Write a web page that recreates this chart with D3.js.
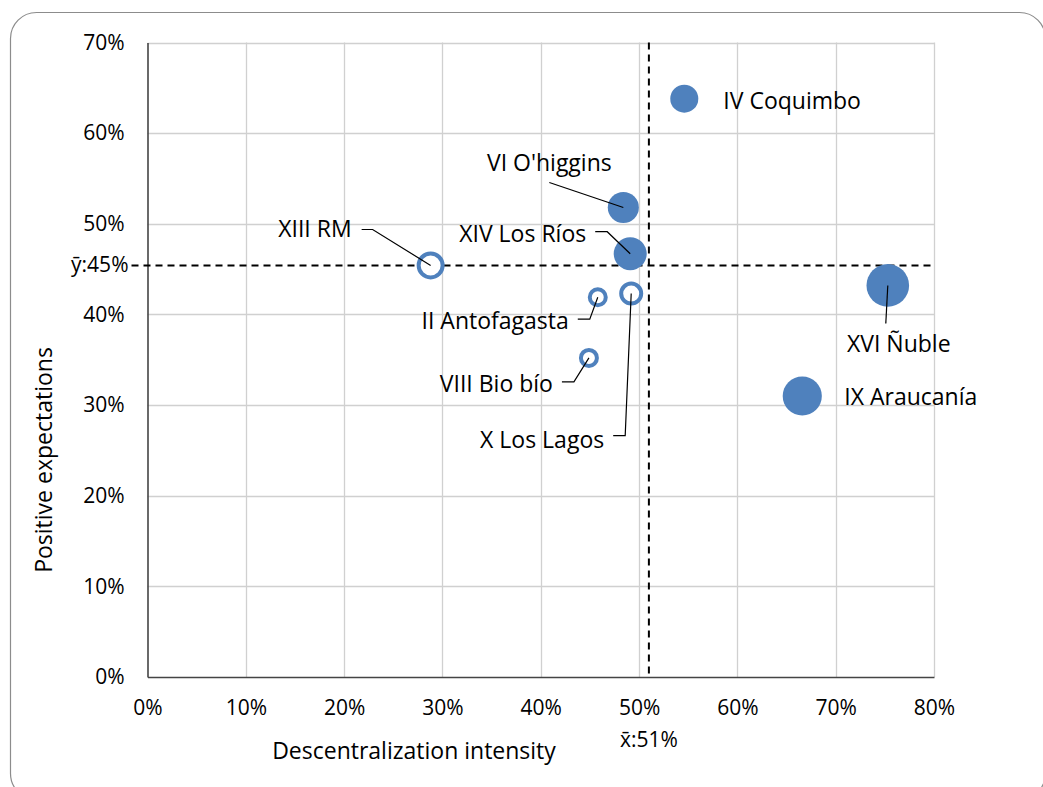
<!DOCTYPE html>
<html><head><meta charset="utf-8">
<script src="https://cdnjs.cloudflare.com/ajax/libs/d3/7.8.5/d3.min.js"></script>
<style>body{margin:0;background:#fff;}text{font-family:"Open Sans",sans-serif;fill:#000;}</style>
</head><body>
<svg id="c" width="1043" height="787"></svg>
<script>
// ---- data ----
const regions = ["IV Coquimbo","VI O'higgins","XIV Los Ríos","XIII RM","II Antofagasta","X Los Lagos","VIII Bio bío","XVI Ñuble","IX Araucanía"];
const decentralization = [0.546,0.484,0.491,0.288,0.458,0.492,0.449,0.753,0.666];
const expectations     = [0.638,0.518,0.467,0.454,0.419,0.423,0.352,0.432,0.310];
const bubbleSize       = [19.5,24,27,-19.4,-9.9,-14.3,-9.9,45,38]; // negative = hollow bubble
const meanX = 0.51, meanY = 0.454;
const xTicks = [0,0.1,0.2,0.3,0.4,0.5,0.6,0.7,0.8];
const yTicks = [0,0.1,0.2,0.3,0.4,0.5,0.6,0.7];
// label layout (pixel offsets of the text anchor from its bubble, and leader elbows)
const labelLayout = [
  {dx:39, dy:10, anchor:"start", leader:null},
  {dx:-74, dy:-36, anchor:"middle", leader:[[-74,-25]]},
  {dx:-44, dy:-12, anchor:"end", leader:[[-23,-22],[-35,-22]]},
  {dx:-79, dy:-28, anchor:"end", leader:[[-58,-36],[-69,-36]]},
  {dx:-29, dy:32, anchor:"end", leader:[[-8,22],[-20,22]]},
  {dx:-27, dy:154, anchor:"end", leader:[[-6,142],[-18,142]]},
  {dx:-36, dy:34, anchor:"end", leader:[[-15,24],[-27,24]]},
  {dx:11, dy:67, anchor:"middle", leader:[[-2,38]]},
  {dx:42, dy:9, anchor:"start", leader:null}
];

const svg = d3.select("#c");
const W=1043,H=787;
svg.append("rect").attr("x",10.5).attr("y",12.5).attr("width",W-8).attr("height",H).attr("rx",26)
  .attr("fill","#fff").attr("stroke","#8c8c8c").attr("stroke-width",1.2);

const L=147.5, R=934, T=42.5, B=677;
const x = d3.scaleLinear().domain([0,0.8]).range([L,R]);
const y = d3.scaleLinear().domain([0,0.7]).range([B,T]);
const rS = d3.scaleSqrt().domain([0,45]).range([0,21.3]);
const pct = d3.format(".0%");
const FT=21, FL=23;

const g = svg.append("g");
// gridlines
g.append("g").selectAll("line").data(xTicks.slice(1)).join("line")
  .attr("x1",d=>Math.round(x(d))+0.5).attr("x2",d=>Math.round(x(d))+0.5).attr("y1",T).attr("y2",B)
  .attr("stroke","#d0d0d0").attr("stroke-width",1.3);
g.append("g").selectAll("line").data(yTicks.slice(1)).join("line")
  .attr("y1",d=>Math.round(y(d))+0.5).attr("y2",d=>Math.round(y(d))+0.5).attr("x1",L).attr("x2",R)
  .attr("stroke","#d0d0d0").attr("stroke-width",1.3);

// axes
const xa = svg.append("g").attr("transform",`translate(0,${B})`)
  .call(d3.axisBottom(x).tickValues(xTicks).tickFormat(pct).tickSize(0).tickPadding(23));
xa.select(".domain").attr("stroke","#444").attr("stroke-width",1.6);
xa.selectAll("text").attr("font-size",FT).attr("font-family","Open Sans");
const ya = svg.append("g").attr("transform",`translate(${L},0)`)
  .call(d3.axisLeft(y).tickValues(yTicks).tickFormat(pct).tickSize(0).tickPadding(23));
ya.select(".domain").attr("stroke","#444").attr("stroke-width",1.6);
ya.selectAll("text").attr("font-size",FT).attr("font-family","Open Sans").attr("dy","0.32em");

// mean lines
svg.append("line").attr("x1",x(meanX)).attr("x2",x(meanX)).attr("y1",T).attr("y2",B)
  .attr("stroke","#000").attr("stroke-width",2).attr("stroke-dasharray","7,5");
svg.append("line").attr("x1",L-16).attr("x2",R).attr("y1",y(meanY)).attr("y2",y(meanY))
  .attr("stroke","#000").attr("stroke-width",2).attr("stroke-dasharray","7,5");
svg.append("text").attr("x",x(meanX)).attr("y",747).attr("text-anchor","middle").attr("font-size",FT)
  .text("x̄:"+pct(meanX));
svg.append("text").attr("x",L-19).attr("y",y(meanY)+7).attr("text-anchor","end").attr("font-size",FT)
  .text("ȳ:45%");

// axis titles
svg.append("text").attr("x",414).attr("y",759).attr("text-anchor","middle").attr("font-size",FL)
  .text("Descentralization intensity");
svg.append("text").attr("transform","translate(52,460) rotate(-90)").attr("text-anchor","middle").attr("font-size",FL)
  .text("Positive expectations");

// bubbles
const data = regions.map((n,i)=>({n,x:decentralization[i],y:expectations[i],s:bubbleSize[i],lab:labelLayout[i]}));
const col = "#4f81bd";
svg.append("g").selectAll("circle").data(data).join("circle")
  .attr("cx",d=>x(d.x)).attr("cy",d=>y(d.y))
  .attr("r",d=>d.s>0?rS(d.s):rS(-d.s)-2)
  .attr("fill",d=>d.s>0?col:"#fff")
  .attr("stroke",d=>d.s>0?"none":col).attr("stroke-width",4);

// leaders & labels
const lg = svg.append("g");
data.forEach(d=>{
  const px=x(d.x), py=y(d.y);
  if(d.lab.leader){
    const pts=[[px,py]].concat(d.lab.leader.map(p=>[px+p[0],py+p[1]]));
    lg.append("path").attr("d",d3.line()(pts)).attr("fill","none").attr("stroke","#000").attr("stroke-width",1.2);
  }
  lg.append("text").attr("x",px+d.lab.dx).attr("y",py+d.lab.dy).attr("text-anchor",d.lab.anchor)
    .attr("font-size",FL).text(d.n);
});
</script>
</body></html>
